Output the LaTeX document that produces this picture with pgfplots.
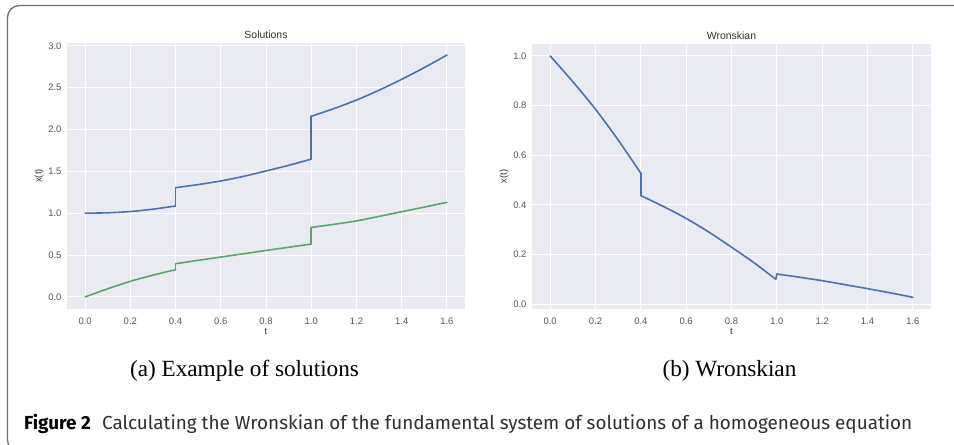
\documentclass[border=0pt]{standalone}
\usepackage{pgfplots}
\pgfplotsset{compat=1.18}
\usepackage{fontspec}
\setmainfont{Liberation Sans}
\newfontfamily\seriffont{Liberation Serif}
\newfontfamily\capfont{Fira Sans}
\definecolor{sbbg}{HTML}{EAEAF2}
\definecolor{sbblue}{HTML}{4C72B0}
\definecolor{sbgreen}{HTML}{55A868}
\definecolor{ticktext}{HTML}{555555}
\definecolor{titletext}{HTML}{333333}
\definecolor{framecol}{HTML}{6E6E6E}
\pgfplotsset{sb/.style={
  scale only axis,
  axis background/.style={fill=sbbg},
  grid=major,
  grid style={white, line width=0.9bp},
  axis line style={draw=none},
  major tick style={draw=none},
  xmin=-0.08, xmax=1.68,
  xtick={0,0.2,0.4,0.6,0.8,1.0,1.2,1.4,1.6},
  tick label style={font=\fontsize{9.5}{10}\selectfont, color=ticktext},
  xticklabel style={yshift=-5bp},
  yticklabel style={xshift=-2bp},
  /pgf/number format/fixed,
  /pgf/number format/fixed zerofill,
  /pgf/number format/precision=1,
  /pgf/number format/assume math mode=true,
  title style={font=\fontsize{10.5}{12}\selectfont, color=titletext, yshift=-5bp},
  label style={font=\fontsize{9.5}{11}\selectfont, color=titletext},
  xlabel style={yshift=3bp},
  ylabel style={yshift=-2bp},
  xlabel={t}, ylabel={x(t)},
  every axis plot/.append style={line width=1.6bp, line join=round, line cap=round},
}}
\begin{document}
\begin{tikzpicture}[x=1bp,y=1bp]
\useasboundingbox (0,0) rectangle (954,445);
\begin{scope}
\clip (0,0) rectangle (954,445);
\draw[framecol, line width=1.3bp, rounded corners=12bp] (980,439.5) -- (7.5,439.5) -- (7.5,-7) -- (980,-7);
\end{scope}

\begin{axis}[sb, at={(67bp,136bp)}, anchor=south west, width=398bp, height=266bp,
  ymin=-0.1445, ymax=3.034, ytick={0,0.5,1.0,1.5,2.0,2.5,3.0}, title={Solutions}]
% blue solution
\addplot[sbblue, smooth, tension=0.5] coordinates {(0,1.0) (0.1,1.005) (0.2,1.02) (0.3,1.048) (0.4,1.087)};
\addplot[sbblue] coordinates {(0.4,1.087) (0.4,1.305)};
\addplot[sbblue, smooth, tension=0.5] coordinates {(0.4,1.305) (0.5,1.342) (0.6,1.385) (0.7,1.44) (0.8,1.505) (0.9,1.572) (1.0,1.646)};
\addplot[sbblue] coordinates {(1.0,1.646) (1.0,2.158)};
\addplot[sbblue, smooth, tension=0.5] coordinates {(1.0,2.158) (1.1,2.25) (1.2,2.352) (1.3,2.47) (1.4,2.60) (1.5,2.74) (1.6,2.89)};
% green solution
\addplot[sbgreen, smooth, tension=0.5] coordinates {(0,0) (0.1,0.097) (0.2,0.186) (0.3,0.26) (0.4,0.325)};
\addplot[sbgreen] coordinates {(0.4,0.325) (0.4,0.396)};
\addplot[sbgreen, smooth, tension=0.5] coordinates {(0.4,0.396) (0.5,0.437) (0.6,0.476) (0.7,0.515) (0.8,0.555) (0.9,0.593) (1.0,0.632)};
\addplot[sbgreen] coordinates {(1.0,0.632) (1.0,0.83)};
\addplot[sbgreen, smooth, tension=0.5] coordinates {(1.0,0.83) (1.1,0.867) (1.2,0.908) (1.3,0.962) (1.4,1.018) (1.5,1.073) (1.6,1.13)};
\end{axis}

\begin{axis}[sb, at={(532bp,136bp)}, anchor=south west, width=399bp, height=265bp,
  ymin=-0.02, ymax=1.048, ytick={0,0.2,0.4,0.6,0.8,1.0}, title={Wronskian}]
\addplot[sbblue, smooth, tension=0.5] coordinates {(0,1.0) (0.1,0.896) (0.2,0.785) (0.3,0.661) (0.4,0.527)};
\addplot[sbblue] coordinates {(0.4,0.527) (0.4,0.437)};
\addplot[sbblue, smooth, tension=0.5] coordinates {(0.4,0.437) (0.5,0.393) (0.6,0.345) (0.7,0.29) (0.8,0.229) (0.9,0.166) (0.995,0.10)};
\addplot[sbblue] coordinates {(0.995,0.10) (1.0,0.121)};
\addplot[sbblue, smooth, tension=0.5] coordinates {(1.0,0.121) (1.1,0.108) (1.2,0.094) (1.3,0.078) (1.4,0.062) (1.5,0.045) (1.6,0.027)};
\end{axis}

\node[font=\seriffont\fontsize{23.3}{26}\selectfont, anchor=base, inner sep=0] at (244.5,68) {(a) Example of solutions};
\node[font=\seriffont\fontsize{23.3}{26}\selectfont, anchor=base, inner sep=0] at (729.5,68) {(b) Wronskian};
\node[anchor=base west, inner sep=0] at (24,15) {\resizebox{888bp}{!}{\capfont\textbf{\color{black}Figure 2}\hspace{0.6em}{\color{black!82}Calculating the Wronskian of the fundamental system of solutions of a homogeneous equation}}};
\end{tikzpicture}
\end{document}
